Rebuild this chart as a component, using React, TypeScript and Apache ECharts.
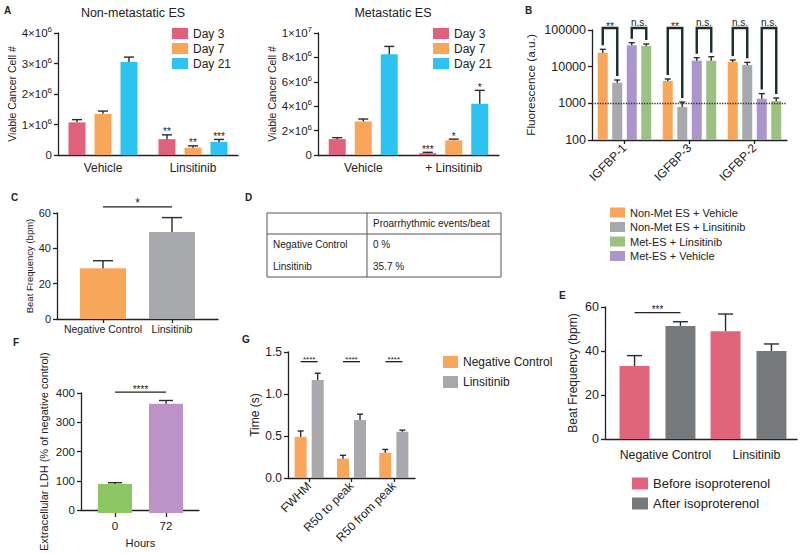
import React, { useEffect, useRef } from 'react';
import * as echarts from 'echarts';

const FONT = "'Liberation Sans', Arial, Helvetica, sans-serif";
const INK = '#222222';
const ERR = '#2b2b2b';
const BRACKET = '#1c2b2b';

// ---------- Panel A ----------
const A_DAYS = ['Day 3', 'Day 7', 'Day 21'];
const A_COLORS = ['#e0617b', '#f8a65a', '#2cc3f1'];
const A1_TITLE = 'Non-metastatic ES';
const A2_TITLE = 'Metastatic ES';
const A_Y_NAME = 'Viable Cancer Cell #';
const A1_CATEGORIES = ['Vehicle', 'Linsitinib'];
const A2_CATEGORIES = ['Vehicle', '+ Linsitinib'];
const A1_VALUES = [[1.07e6, 0.52e6], [1.35e6, 0.24e6], [3.05e6, 0.43e6]];
const A1_ERRORS = [[0.09e6, 0.14e6], [0.09e6, 0.06e6], [0.16e6, 0.08e6]];
const A1_SIG = [['', '**'], ['', '**'], ['', '***']];
const A1_Y_LABELS = ['0', '1×10{s|6}', '2×10{s|6}', '3×10{s|6}', '4×10{s|6}'];
const A2_VALUES = [[1.3e6, 0.15e6], [2.75e6, 1.2e6], [8.25e6, 4.2e6]];
const A2_ERRORS = [[0.12e6, 0.07e6], [0.2e6, 0.1e6], [0.65e6, 1.1e6]];
const A2_SIG = [['', '***'], ['', '*'], ['', '*']];
const A2_Y_LABELS = ['0', '2×10{s|6}', '4×10{s|6}', '6×10{s|6}', '8×10{s|6}', '1×10{s|7}'];

// ---------- Panel B ----------
const B_CATEGORIES = ['IGFBP-1', 'IGFBP-3', 'IGFBP-2'];
const B_GROUPS = ['Non-Met ES + Vehicle', 'Non-Met ES + Linsitinib', 'Met-ES + Vehicle', 'Met-ES + Linsitinib'];
const B_COLORS = ['#f8a65a', '#a7a9ac', '#ab96cc', '#9dc183'];
const B_LEGEND = ['Non-Met ES + Vehicle', 'Non-Met ES + Linsitinib', 'Met-ES + Linsitinib', 'Met-ES + Vehicle'];
const B_VALUES = [[24000, 4060, 13400], [3660, 794, 11100], [38300, 14600, 1343], [36600, 14600, 1155]];
const B_ERRORS = [[5700, 550, 1800], [660, 290, 2000], [6700, 3000, 500], [4900, 4100, 240]];
const B_COMPARE_PAIRS = [[0, 0, 1], [0, 2, 3], [1, 0, 1], [1, 2, 3], [2, 0, 1], [2, 2, 3]];
const B_COMPARE_LABELS = ['**', 'n.s.', '**', 'n.s.', 'n.s.', 'n.s.'];
const B_Y_LABELS = ['100', '1000', '10000', '100000'];
const B_Y_MIN = 100;
const B_Y_MAX = 100000;
const B_THRESHOLD = 1000;
const B_Y_NAME = 'Fluorescence (a.u.)';

// ---------- Panel C ----------
const C_CATEGORIES = ['Negative Control', 'Linsitinib'];
const C_COLORS = ['#f8a65a', '#a7a9ac'];
const C_VALUES = [28.7, 49.3];
const C_ERRORS = [4.3, 8.1];
const C_SIG = '*';
const C_SIG_LEVEL = 63.5;
const C_Y_LABELS = ['0', '20', '40', '60'];
const C_Y_NAME = 'Beat Frequency (bpm)';

// ---------- Panel D ----------
const D_HEADER = ['', 'Proarrhythmic events/beat'];
const D_ROWS = [['Negative Control', '0 %'], ['Linsitinib', '35.7 %']];

// ---------- Panel E ----------
const E_CATEGORIES = ['Negative Control', 'Linsitinib'];
const E_GROUPS = ['Before isoproterenol', 'After isoproterenol'];
const E_COLORS = ['#e0647b', '#76797b'];
const E_VALUES = [[33.2, 49.0], [51.4, 40.0]];
const E_ERRORS = [[4.7, 7.8], [1.9, 3.2]];
const E_SIG = '***';
const E_SIG_LEVEL = 57.4;
const E_Y_LABELS = ['0', '20', '40', '60'];
const E_Y_NAME = 'Beat Frequency (bpm)';

// ---------- Panel F ----------
const F_CATEGORIES = ['0', '72'];
const F_COLORS = ['#8cc764', '#bd92c6'];
const F_VALUES = [97, 364];
const F_ERRORS = [4, 11];
const F_SIG = '****';
const F_SIG_LEVEL = 403;
const F_Y_LABELS = ['0', '100', '200', '300', '400'];
const F_Y_NAME = 'Extracellular LDH (% of negative control)';
const F_X_NAME = 'Hours';

// ---------- Panel G ----------
const G_CATEGORIES = ['FWHM', 'R50 to peak', 'R50 from peak'];
const G_GROUPS = ['Negative Control', 'Linsitinib'];
const G_COLORS = ['#f8a65a', '#a7a9ac'];
const G_VALUES = [[0.49, 0.23, 0.30], [1.167, 0.69, 0.55]];
const G_ERRORS = [[0.07, 0.04, 0.04], [0.08, 0.07, 0.02]];
const G_SIG = '****';
const G_SIG_LEVEL = 1.385;
const G_Y_LABELS = ['0.0', '0.5', '1.0', '1.5'];
const G_Y_NAME = 'Time (s)';

const LETTERS: [string, number, number][] = [
  ['A', 4, 10], ['B', 525, 10], ['C', 11, 197], ['D', 245, 197],
  ['E', 559, 295], ['F', 13, 342], ['G', 242, 339],
];

function buildOption() {
  const grids: any[] = [];
  const xAxes: any[] = [];
  const yAxes: any[] = [];
  const series: any[] = [];

  const addGrid = (rect: any, x: any, y: any) => {
    const i = grids.length;
    grids.push(rect);
    xAxes.push({ gridIndex: i, ...x });
    yAxes.push({ gridIndex: i, ...y });
    return i;
  };

  const line = { show: true, lineStyle: { color: INK, width: 1.3 } };
  const tick = { show: true, length: 4, lineStyle: { color: INK, width: 1.3 } };
  const txt = (size: number) => ({ fontSize: size, color: INK, fontFamily: FONT });
  const fromList = (labels: string[], min: number, step: number) => (v: number) =>
    labels[Math.round((v - min) / step)] ?? '';

  const valueY = (min: number, max: number, step: number, labels: string[], size: number,
    name: string, gap: number, nameSize: number, extra: any = {}) => ({
    type: 'value', min, max, interval: step,
    axisLine: line, axisTick: tick, splitLine: { show: false },
    axisLabel: { ...txt(size), margin: 6, formatter: fromList(labels, min, step), ...(extra.axisLabel || {}) },
    name, nameLocation: 'middle', nameGap: gap, nameTextStyle: txt(nameSize),
  });

  const hiddenY = (min: number, max: number) => ({ type: 'value', min, max, show: false });
  const lineOnlyX = { type: 'value', min: 0, max: 1, axisLine: line, axisTick: { show: false }, axisLabel: { show: false }, splitLine: { show: false } };

  const off = (si: number, n: number, w: number, gap: number) => (si - (n - 1) / 2) * w * (1 + gap);

  const addBars = (ax: number, names: string[], values: number[][], colors: string[], w: number, gap: number) => {
    names.forEach((nm, si) => series.push({
      type: 'bar', name: nm, xAxisIndex: ax, yAxisIndex: ax, data: values[si],
      barWidth: w, barGap: `${gap * 100}%`, itemStyle: { color: colors[si] }, z: 2, silent: true,
    }));
  };

  const addErrors = (ax: number, values: number[][], errors: number[][], w: number, gap: number, cap: number) => {
    const n = values.length;
    const data: number[][] = [];
    values.forEach((row, si) => row.forEach((v, ci) => data.push([ci, v, v + errors[si][ci], si])));
    series.push({
      type: 'custom', xAxisIndex: ax, yAxisIndex: ax, data, z: 3, silent: true,
      encode: { x: 0, y: [1, 2] },
      renderItem: (_p: any, api: any) => {
        const ci = api.value(0), lo = api.value(1), hi = api.value(2), si = api.value(3);
        const a = api.coord([ci, lo]);
        const b = api.coord([ci, hi]);
        const x = a[0] + off(si, n, w, gap);
        const st = { stroke: ERR, lineWidth: 1.4 };
        return {
          type: 'group', children: [
            { type: 'line', shape: { x1: x, y1: a[1], x2: x, y2: b[1] }, style: st },
            { type: 'line', shape: { x1: x - cap / 2, y1: b[1], x2: x + cap / 2, y2: b[1] }, style: st },
          ],
        };
      },
    });
  };

  const textStyle = (text: string, size: number) => ({
    text, fill: INK, fontSize: size, fontFamily: FONT,
    align: 'center', verticalAlign: 'bottom', textAlign: 'center', textVerticalAlign: 'bottom',
  });

  const addStars = (ax: number, values: number[][], errors: number[][], labels: string[][], w: number, gap: number, size: number) => {
    const n = values.length;
    const data: number[][] = [];
    const texts: string[] = [];
    values.forEach((row, si) => row.forEach((v, ci) => {
      if (labels[si][ci]) { data.push([ci, v + errors[si][ci], si]); texts.push(labels[si][ci]); }
    }));
    series.push({
      type: 'custom', xAxisIndex: ax, yAxisIndex: ax, data, z: 4, silent: true,
      encode: { x: 0, y: 1 },
      renderItem: (p: any, api: any) => {
        const ci = api.value(0), top = api.value(1), si = api.value(2);
        const pt = api.coord([ci, top]);
        return { type: 'text', x: pt[0] + off(si, n, w, gap), y: pt[1] + 2, style: textStyle(texts[p.dataIndex], size) };
      },
    });
  };

  // data rows: [catA, seriesA, catB, seriesB]
  const addSigLines = (ax: number, rows: number[][], level: number, label: string, n: number, w: number, gap: number, size: number) => {
    series.push({
      type: 'custom', xAxisIndex: ax, yAxisIndex: ax, z: 4, silent: true,
      data: rows.map((r) => [r[0], r[1], r[2], r[3], level]),
      encode: { x: 0, y: 4 },
      renderItem: (_p: any, api: any) => {
        const ca = api.value(0), sa = api.value(1), cb = api.value(2), sb = api.value(3), lv = api.value(4);
        const pa = api.coord([ca, lv]);
        const pb = api.coord([cb, lv]);
        const xa = pa[0] + off(sa, n, w, gap);
        const xb = pb[0] + off(sb, n, w, gap);
        return {
          type: 'group', children: [
            { type: 'line', shape: { x1: xa, y1: pa[1], x2: xb, y2: pa[1] }, style: { stroke: INK, lineWidth: 1.3 } },
            { type: 'text', x: (xa + xb) / 2, y: pa[1] + 2, style: textStyle(label, size) },
          ],
        };
      },
    });
  };

  const supRich = { s: { fontSize: 8, verticalAlign: 'top', lineHeight: 9, fontFamily: FONT, color: INK } };

  // ---- A1 ----
  const a1 = addGrid({ left: 58, top: 33, width: 180, height: 122 },
    { type: 'category', data: A1_CATEGORIES, axisLine: line, axisTick: { show: false }, axisLabel: { ...txt(12), margin: 7, interval: 0 } },
    valueY(0, 4e6, 1e6, A1_Y_LABELS, 11.5, A_Y_NAME, 40, 10.5, { axisLabel: { rich: supRich, lineHeight: 15 } }));
  addBars(a1, A_DAYS, A1_VALUES, A_COLORS, 17, 0.53);
  addErrors(a1, A1_VALUES, A1_ERRORS, 17, 0.53, 10);
  addStars(a1, A1_VALUES, A1_ERRORS, A1_SIG, 17, 0.53, 10);

  // ---- A2 ----
  const a2 = addGrid({ left: 318, top: 33, width: 181, height: 122 },
    { type: 'category', data: A2_CATEGORIES, axisLine: line, axisTick: { show: false }, axisLabel: { ...txt(12), margin: 7, interval: 0 } },
    valueY(0, 1e7, 2e6, A2_Y_LABELS, 11.5, A_Y_NAME, 40, 10.5, { axisLabel: { rich: supRich, lineHeight: 15 } }));
  addBars(a2, A_DAYS, A2_VALUES, A_COLORS, 17, 0.53);
  addErrors(a2, A2_VALUES, A2_ERRORS, 17, 0.53, 10);
  addStars(a2, A2_VALUES, A2_ERRORS, A2_SIG, 17, 0.53, 10);

  // ---- B ----
  const bW = 10, bGap = 0.45;
  const b = addGrid({ left: 592, top: 30, width: 195, height: 110 },
    { type: 'category', data: B_CATEGORIES, axisLine: line, axisTick: { ...tick, alignWithLabel: true }, axisLabel: { ...txt(12), margin: 6, rotate: 45, interval: 0 } },
    {
      type: 'log', logBase: 10, min: B_Y_MIN, max: B_Y_MAX, axisLine: line, axisTick: tick, splitLine: { show: false }, minorTick: { show: false },
      axisLabel: { ...txt(12.5), margin: 6, formatter: (v: number) => B_Y_LABELS[Math.round(Math.log10(v) - Math.log10(B_Y_MIN))] ?? '' },
      name: B_Y_NAME, nameLocation: 'middle', nameGap: 55, nameTextStyle: txt(11.8),
    });
  addBars(b, B_GROUPS, B_VALUES, B_COLORS, bW, bGap);
  series[series.length - 1].markLine = {
    silent: true, symbol: 'none', label: { show: false },
    lineStyle: { type: 'dotted', color: '#333', width: 1.3 },
    data: [{ yAxis: B_THRESHOLD }],
  };
  addErrors(b, B_VALUES, B_ERRORS, bW, bGap, 6);
  series.push({
    type: 'custom', xAxisIndex: b, yAxisIndex: b, z: 5, silent: true,
    data: B_COMPARE_PAIRS.map(([ci, sa, sb]) => [ci, B_VALUES[sa][ci] + B_ERRORS[sa][ci], B_VALUES[sb][ci] + B_ERRORS[sb][ci], sa, sb]),
    encode: { x: 0, y: [1, 2] },
    renderItem: (p: any, api: any) => {
      const ci = api.value(0), ta = api.value(1), tb = api.value(2), sa = api.value(3), sb = api.value(4);
      const pa = api.coord([ci, ta]);
      const pb = api.coord([ci, tb]);
      const xa = pa[0] + off(sa, 4, bW, bGap);
      const xb = pb[0] + off(sb, 4, bW, bGap);
      const top = api.coord([ci, B_Y_MAX])[1] - 2;
      const label = B_COMPARE_LABELS[p.dataIndex];
      const star = label.indexOf('*') >= 0;
      return {
        type: 'group', children: [
          { type: 'polyline', shape: { points: [[xa, pa[1] - 4], [xa, top], [xb, top], [xb, pb[1] - 4]] }, style: { stroke: BRACKET, lineWidth: 2.4, fill: 'none', lineJoin: 'miter' } },
          { type: 'text', x: (xa + xb) / 2, y: top - 1 + (star ? 4 : 0), style: textStyle(label, 10) },
        ],
      };
    },
  });

  // ---- C ----
  addGrid({ left: 57, top: 213, width: 161, height: 106 }, lineOnlyX,
    valueY(0, 60, 20, C_Y_LABELS, 11, C_Y_NAME, 19, 9.5));
  const c = addGrid({ left: 68.5, top: 213, width: 138, height: 106 },
    { type: 'category', data: C_CATEGORIES, axisLine: { show: false }, axisTick: { ...tick, alignWithLabel: true }, axisLabel: { ...txt(10.5), margin: 4, interval: 0 } },
    hiddenY(0, 60));
  series.push({
    type: 'bar', name: 'C', xAxisIndex: c, yAxisIndex: c, barWidth: 46, z: 2, silent: true,
    data: C_VALUES.map((v, i) => ({ value: v, itemStyle: { color: C_COLORS[i] } })),
  });
  addErrors(c, [C_VALUES], [C_ERRORS], 46, 0, 20);
  addSigLines(c, [[0, 0, 1, 0]], C_SIG_LEVEL, C_SIG, 1, 46, 0, 12);

  // ---- E ----
  const eW = 30, eGap = 0.53;
  addGrid({ left: 605, top: 307, width: 192, height: 132 }, lineOnlyX,
    valueY(0, 60, 20, E_Y_LABELS, 12.5, E_Y_NAME, 26, 12));
  const e = addGrid({ left: 612, top: 307, width: 182, height: 132 },
    {
      type: 'category', data: E_CATEGORIES, axisLine: { show: false }, axisTick: { show: false },
      axisLabel: { ...txt(12.3), margin: 10, interval: 0, formatter: (v: string) => `{p|}${v}`, rich: { p: { width: 16 } } },
    },
    hiddenY(0, 60));
  addBars(e, E_GROUPS, E_VALUES, E_COLORS, eW, eGap);
  addErrors(e, E_VALUES, E_ERRORS, eW, eGap, 15);
  addSigLines(e, [[0, 0, 0, 1]], E_SIG_LEVEL, E_SIG, 2, eW, eGap, 10);

  // ---- F ----
  addGrid({ left: 81, top: 393, width: 118, height: 120 }, lineOnlyX,
    valueY(0, 400, 100, F_Y_LABELS, 11.5, F_Y_NAME, 32, 11));
  const f = addGrid({ left: 89.5, top: 393, width: 102, height: 120 },
    {
      type: 'category', data: F_CATEGORIES, axisLine: { show: false }, axisTick: { ...tick, alignWithLabel: true }, axisLabel: { ...txt(11.5), margin: 7, interval: 0 },
      name: F_X_NAME, nameLocation: 'middle', nameGap: 24, nameTextStyle: txt(11.2),
    },
    hiddenY(0, 400));
  series.push({
    type: 'bar', name: 'F', xAxisIndex: f, yAxisIndex: f, barWidth: 34, z: 2, silent: true,
    data: F_VALUES.map((v, i) => ({ value: v, itemStyle: { color: F_COLORS[i] } })),
  });
  addErrors(f, [F_VALUES], [F_ERRORS], 34, 0, 14);
  addSigLines(f, [[0, 0, 1, 0]], F_SIG_LEVEL, F_SIG, 1, 34, 0, 10);

  // ---- G ----
  const gW = 12, gGap = 0.42;
  const g = addGrid({ left: 288, top: 352, width: 127, height: 126 },
    { type: 'category', data: G_CATEGORIES, axisLine: line, axisTick: { ...tick, alignWithLabel: true }, axisLabel: { ...txt(12), margin: 6, rotate: 45, interval: 0 } },
    valueY(0, 1.5, 0.5, G_Y_LABELS, 12, G_Y_NAME, 27, 12));
  addBars(g, G_GROUPS, G_VALUES, G_COLORS, gW, gGap);
  addErrors(g, G_VALUES, G_ERRORS, gW, gGap, 6);
  addSigLines(g, G_CATEGORIES.map((_, ci) => [ci, 0, ci, 1]), G_SIG_LEVEL, G_SIG, 2, gW, gGap, 8);

  const legend = (left: number, top: number, data: string[], w: number, h: number, gap: number, size: number) => ({
    left, top, orient: 'vertical', data, itemWidth: w, itemHeight: h, itemGap: gap, icon: 'rect', padding: 0,
    selectedMode: false, textStyle: { ...txt(size), lineHeight: h },
  });

  const graphicText = (text: string, x: number, y: number, font: string, align = 'left') => ({
    type: 'text', x, y, silent: true,
    style: { text, font, fill: INK, align, verticalAlign: 'middle', textAlign: align, textVerticalAlign: 'middle' },
  });

  const graphic: any[] = [];
  LETTERS.forEach(([l, x, y]) => graphic.push(graphicText(l, x, y, `bold 10px ${FONT}`)));
  graphic.push(graphicText(A1_TITLE, 133, 13, `12.5px ${FONT}`, 'center'));
  graphic.push(graphicText(A2_TITLE, 393, 13, `12.5px ${FONT}`, 'center'));

  // Table D
  const tL = 267, tT = 213, tW = 234, tH = 64, tHead = 21, tCol = 100;
  const tStroke = { stroke: '#555', lineWidth: 1, fill: 'none' };
  graphic.push({ type: 'rect', silent: true, shape: { x: tL, y: tT, width: tW, height: tH }, style: tStroke });
  graphic.push({ type: 'line', silent: true, shape: { x1: tL, y1: tT + tHead, x2: tL + tW, y2: tT + tHead }, style: tStroke });
  graphic.push({ type: 'line', silent: true, shape: { x1: tL + tCol, y1: tT, x2: tL + tCol, y2: tT + tH }, style: tStroke });
  const colX = [tL + 6, tL + tCol + 6];
  D_HEADER.forEach((h, i) => { if (h) graphic.push(graphicText(h, colX[i], tT + 10, `10px ${FONT}`)); });
  D_ROWS.forEach((row, r) => row.forEach((cell, i) => graphic.push(graphicText(cell, colX[i], tT + 31 + r * 22, `10px ${FONT}`))));

  return {
    animation: false,
    backgroundColor: '#ffffff',
    textStyle: { fontFamily: FONT },
    grid: grids,
    xAxis: xAxes,
    yAxis: yAxes,
    series,
    legend: [
      legend(172, 27.5, A_DAYS, 16, 11, 3, 12),
      legend(433, 27.5, A_DAYS, 16, 11, 3, 12),
      legend(610, 207, B_LEGEND, 15, 10, 3.5, 11),
      legend(632, 477, E_GROUPS, 16, 12, 7, 13),
      legend(443, 356, G_GROUPS, 15, 12, 8, 12),
    ],
    graphic,
  };
}

export default function App() {
  const ref = useRef<HTMLDivElement>(null);
  useEffect(() => {
    if (!ref.current) return;
    const chart = echarts.init(ref.current, undefined, { renderer: 'svg' });
    chart.setOption(buildOption() as any);
    return () => chart.dispose();
  }, []);
  return (
    <div
      ref={ref}
      style={{ position: 'absolute', left: 0, top: 0, width: 800, height: 553, background: '#fff' }}
    />
  );
}
